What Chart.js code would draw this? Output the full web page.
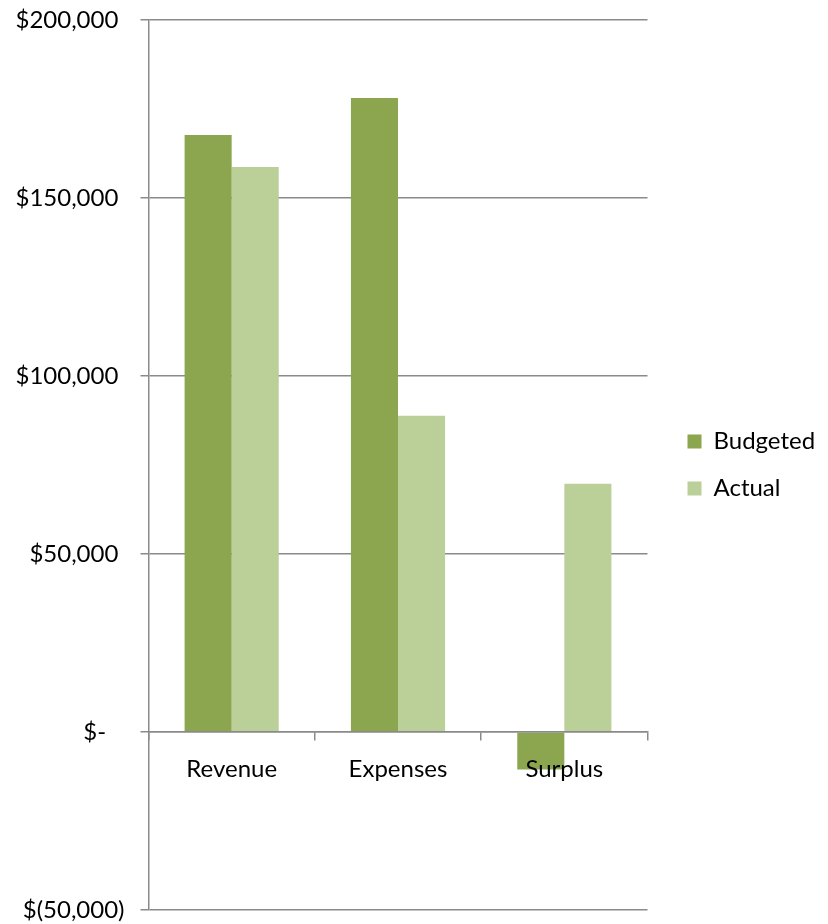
<!DOCTYPE html>
<html>
<head>
<meta charset="utf-8">
<script src="https://cdn.jsdelivr.net/npm/chart.js@4/dist/chart.umd.min.js"></script>
<style>
  html, body { margin: 0; padding: 0; background: #ffffff; }
  #wrap { width: 828px; height: 924px; position: relative; }
</style>
</head>
<body>
<div id="wrap"><canvas id="c"></canvas></div>
<script>
// ---- data ----
const categories = ['Revenue', 'Expenses', 'Surplus'];
const budgeted = [167700, 178100, -10500];
const actual = [158700, 88800, 69700];
const seriesNames = ['Budgeted', 'Actual'];
const yMin = -50000;
const yMax = 200000;
const yStep = 50000;

// ---- styles ----
const colBudget = '#8ba64f';
const colActual = '#bbcf98';
const gridCol = '#8a8a8a';
const FONT = 'Lato, "Liberation Sans", sans-serif';
const FS = 24;
const NB = '\u00A0';

function acct(v) {
  if (v === 0) return '$-' + NB + NB + NB;
  const s = Math.abs(v).toLocaleString('en-US');
  return v < 0 ? '$(' + s + ')' : '$' + s + NB;
}

const PLOT_LEFT = 148.5, PLOT_RIGHT = 647.5;
const layoutFix = {
  id: 'layoutFix',
  beforeLayout(chart) {
    const lg = chart.legend;
    if (lg && !lg._patched) {
      const orig = lg.fit;
      lg.fit = function () { orig.call(this); this.width = chart.width - PLOT_RIGHT; };
      lg._patched = true;
    }
  },
  afterLayout(chart) {
    if (chart.legend) chart.legend.left = chart.chartArea.right + 17;
  }
};

new Chart(document.getElementById('c'), {
  type: 'bar',
  data: {
    labels: categories,
    datasets: [
      { label: seriesNames[0], data: budgeted, backgroundColor: colBudget, borderWidth: 0 },
      { label: seriesNames[1], data: actual, backgroundColor: colActual, borderWidth: 0 }
    ]
  },
  options: {
    responsive: true,
    maintainAspectRatio: false,
    animation: false,
    devicePixelRatio: 1,
    layout: { padding: { left: 0, right: 0, top: 20, bottom: 14 } },
    datasets: { bar: { categoryPercentage: 0.566, barPercentage: 1.0 } },
    plugins: {
      tooltip: { enabled: false },
      legend: {
        position: 'right',
        align: 'center',
        labels: {
          boxWidth: 14, boxHeight: 14, padding: 23,
          color: '#000000',
          font: { family: FONT, size: FS }
        }
      }
    },
    scales: {
      x: {
        position: { y: 0 },
        grid: {
          display: true, drawOnChartArea: false, drawTicks: true,
          tickLength: 8, color: gridCol, lineWidth: 1.5, offset: true, z: 1
        },
        border: { display: true, color: gridCol, width: 1.5, z: 1 },
        ticks: { color: '#000000', font: { family: FONT, size: FS }, padding: 15, maxRotation: 0, z: 1 }
      },
      y: {
        min: yMin, max: yMax,
        afterFit(scale) {
          scale.width = PLOT_LEFT;
          scale.paddingTop = 0;
          scale.paddingBottom = 0;
        },
        grid: { color: gridCol, lineWidth: 1.5, tickLength: 8, drawTicks: true },
        border: { display: true, color: gridCol, width: 1.5 },
        ticks: {
          stepSize: yStep,
          color: '#000000',
          font: { family: FONT, size: FS },
          padding: 16,
          callback: (v) => acct(v)
        }
      }
    }
  },
  plugins: [layoutFix]
});
</script>
</body>
</html>
